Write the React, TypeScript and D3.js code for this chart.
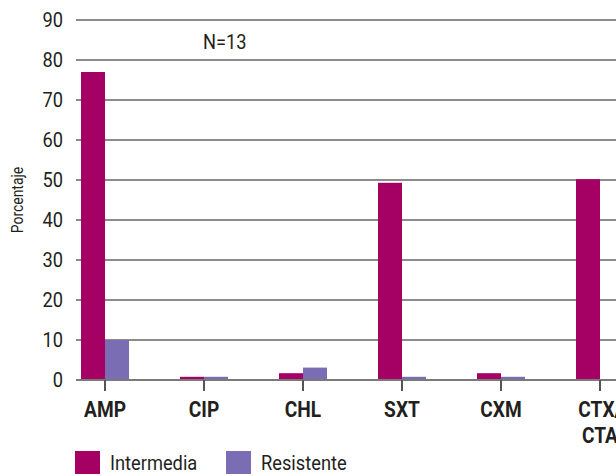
import React from "react";
import * as d3 from "d3";

const categories = ["AMP", "CIP", "CHL", "SXT", "CXM", "CTX/CTA"];
const seriesNames = ["Intermedia", "Resistente"];
const intermedia = [77, 0.8, 1.7, 49.3, 1.7, 50.2];
const resistente = [10, 0.8, 3.1, 0.8, 0.8, 0];
const yTicks = [0, 10, 20, 30, 40, 50, 60, 70, 80, 90];
const colors = ["#a50064", "#7a6db4"];

const W = 616;
const H = 476;
const FONT = "Roboto, 'Liberation Sans', sans-serif";
const SX = 0.87;

function T(props: {
  x: number;
  y: number;
  size: number;
  anchor?: string;
  weight?: string;
  baseline?: string;
  rotate?: number;
  children: React.ReactNode;
}) {
  const { x, y, size, anchor, weight, baseline, rotate, children } = props;
  const tr = `translate(${x},${y})${rotate ? ` rotate(${rotate})` : ""} scale(${SX},1)`;
  return (
    <text
      transform={tr}
      textAnchor={anchor || "start"}
      dominantBaseline={baseline}
      fontSize={size}
      fontWeight={weight}
      fill="#231f20"
    >
      {children}
    </text>
  );
}

export default function App() {
  const step = 99;
  const x0 = 55.5;
  const x = d3
    .scaleBand<string>()
    .domain(categories)
    .range([x0, x0 + step * categories.length])
    .padding(0);
  const sub = d3.scaleBand<string>().domain(seriesNames).range([-24, 24]).padding(0);
  const y = d3.scaleLinear().domain([0, 90]).range([380, 20]);
  const gridX1 = 76;
  const gridX2 = W;
  const series = [intermedia, resistente];

  return (
    <svg
      width={W}
      height={H}
      style={{ position: "absolute", left: 0, top: 0, background: "#fff" }}
      fontFamily={FONT}
    >
      {yTicks.map((t) => (
        <g key={t}>
          <line
            x1={gridX1}
            x2={gridX2}
            y1={y(t)}
            y2={y(t)}
            stroke={t === 0 ? "#7a7a7a" : "#8c8c8c"}
            strokeWidth={2}
          />
          <T x={63} y={y(t)} size={21} anchor="end" baseline="central">
            {t}
          </T>
        </g>
      ))}
      {categories.map((c, i) => {
        const cx = (x(c) as number) + x.bandwidth() / 2;
        return (
          <g key={c}>
            {series.map((vals, s) => {
              const v = vals[i];
              if (v <= 0) return null;
              return (
                <rect
                  key={s}
                  x={cx + (sub(seriesNames[s]) as number)}
                  width={sub.bandwidth()}
                  y={y(v)}
                  height={y(0) - y(v)}
                  fill={colors[s]}
                />
              );
            })}
          </g>
        );
      })}
      <line x1={gridX1} x2={gridX2} y1={y(0)} y2={y(0)} stroke="#7a7a7a" strokeWidth={2} />
      {categories.map((c) => {
        const cx = (x(c) as number) + x.bandwidth() / 2;
        const lines = c.includes("/") ? [c.split("/")[0] + "/", c.split("/")[1]] : [c];
        return (
          <g key={c}>
            <line x1={cx} x2={cx} y1={y(0)} y2={y(0) + 11} stroke="#555" strokeWidth={2} />
            {lines.map((l, k) => (
              <T key={k} x={cx} y={417 + k * 26} size={22} weight="bold" anchor="middle">
                {l}
              </T>
            ))}
          </g>
        );
      })}
      <T x={23} y={200} size={16} anchor="middle" rotate={-90}>
        Porcentaje
      </T>
      <T x={203} y={49} size={21}>
        N=13
      </T>
      {seriesNames.map((n, s) => {
        const lx = s === 0 ? 75 : 226;
        return (
          <g key={n}>
            <rect x={lx} y={451} width={25} height={23} fill={colors[s]} />
            <T x={lx + 35} y={470} size={21}>
              {n}
            </T>
          </g>
        );
      })}
    </svg>
  );
}
